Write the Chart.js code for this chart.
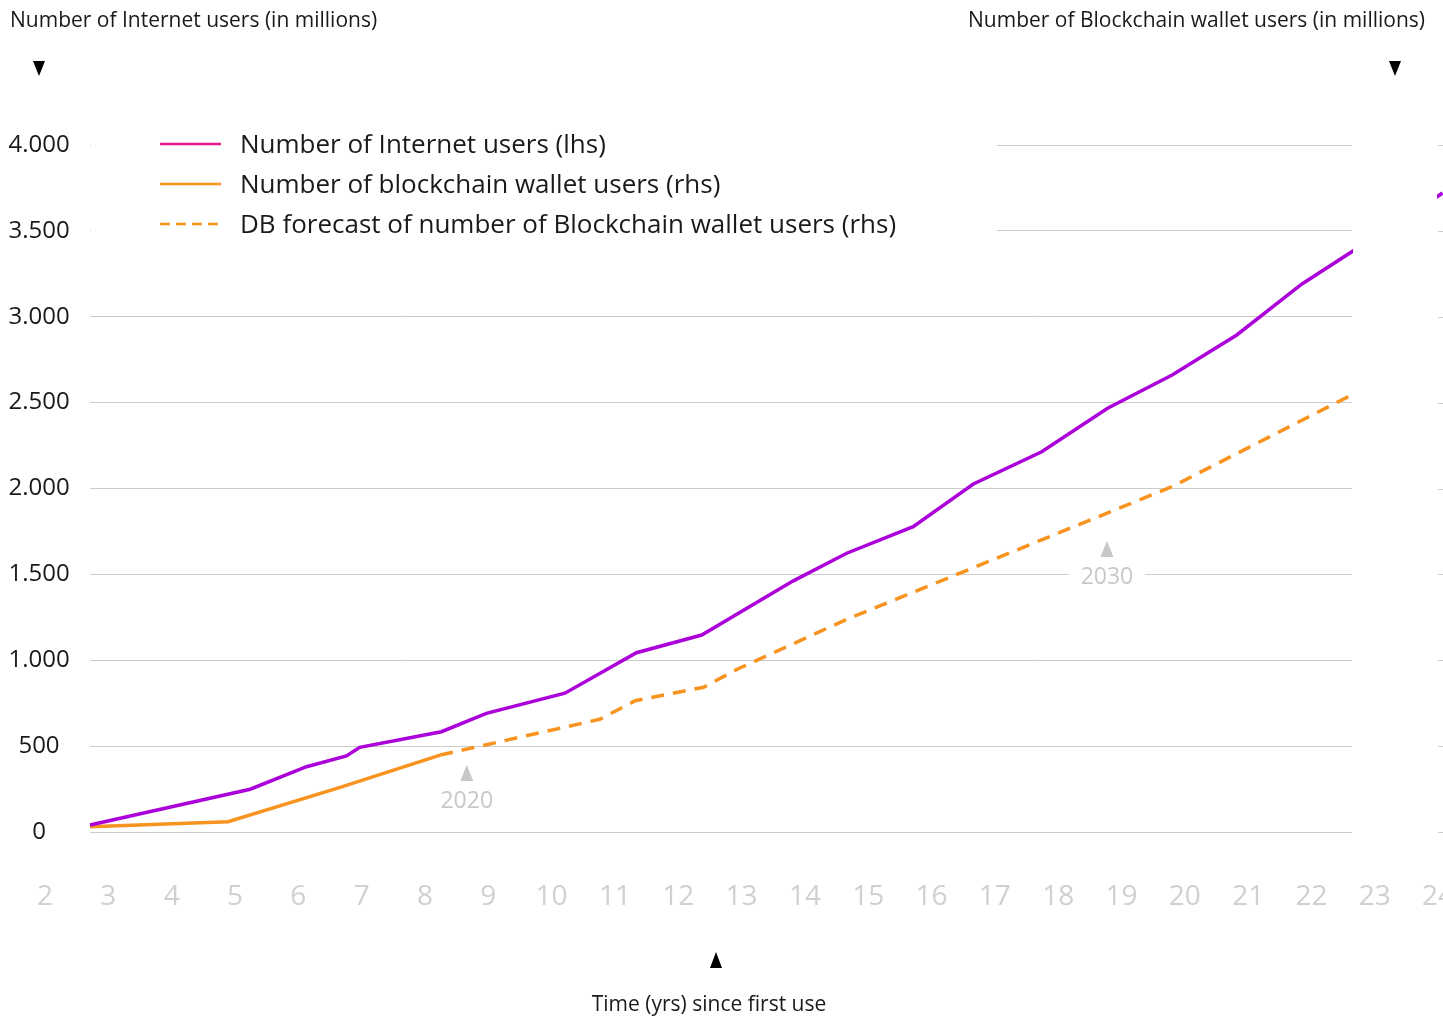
<!DOCTYPE html>
<html>
<head>
<meta charset="utf-8">
<script src="https://cdn.jsdelivr.net/npm/chart.js@4.4.0/dist/chart.umd.min.js"></script>
<style>
  html, body { margin: 0; padding: 0; background: #ffffff; }
  #wrap { width: 1443px; height: 1016px; position: relative; }
  canvas { display: block; }
</style>
</head>
<body>
<div id="wrap"><canvas id="chart" width="1443" height="1016"></canvas></div>
<script>
// ---- data (x = years since first use) ----
const internetYears = [2.71, 5.24, 6.13, 6.76, 6.97, 8.26, 8.97, 10.21, 11.34, 12.37, 13.81, 14.66, 15.71, 16.66, 17.74, 18.78, 19.80, 20.82, 21.85, 24.07];
const internetUsers = [41, 249, 380, 443, 493, 584, 691, 808, 1044, 1147, 1461, 1623, 1778, 2026, 2214, 2467, 2661, 2894, 3191, 3720];

const walletYears = [2.71, 4.89, 6.66, 8.24];
const walletUsers = [3.1, 6.0, 26.0, 44.8];

const forecastYears = [8.24, 10.76, 11.32, 12.40, 12.94, 14.66, 19.80, 22.64];
const forecastUsers = [44.8, 65.6, 76.4, 84.3, 94.9, 123.8, 201.1, 254.6];

const xTickValues = [2, 3, 4, 5, 6, 7, 8, 9, 10, 11, 12, 13, 14, 15, 16, 17, 18, 19, 20, 21, 22, 23, 24];

const markerLabels = ['2020', '2030'];
const markerYears = [8.66, 18.77];
const markerValues = [186, 1490];   // left-axis value at the label centre

const legendLabels = [
  'Number of Internet users (lhs)',
  'Number of blockchain wallet users (rhs)',
  'DB forecast of number of Blockchain wallet users (rhs)'
];

const leftTitle = 'Number of Internet users (in millions)';
const rightTitle = 'Number of Blockchain wallet users (in millions)';
const xTitle = 'Time (yrs) since first use';

// ---- styling ----
const FONT = '"Open Sans", Lato, "DejaVu Sans", sans-serif';
const INK = '#1a1a1a';
const GRID = '#cccccc';
const PURPLE = '#ab00d9';
const PINK = '#ea1a8e';
const ORANGE = '#f7931e';
const LIGHT = '#c8c8c8';

const toXY = (xs, ys) => xs.map((x, i) => ({ x: x, y: ys[i] }));
const fmtThousands = v => String(v).replace(/\B(?=(\d{3})+(?!\d))/g, '.');

// measure label widths so the tick labels can be centred in their gutters
const mctx = document.createElement('canvas').getContext('2d');
mctx.font = '24px ' + FONT;
const leftWidest = mctx.measureText('4.000').width;
const rightWidest = mctx.measureText('400').width;
const LEFT_W = 90, RIGHT_W = 91;
const leftPad = (LEFT_W - 39) - leftWidest / 2;
const rightPad = (1395 - (1443 - RIGHT_W)) - rightWidest / 2;

function triangle(ctx, cx, tipY, w, h, up, color) {
  ctx.fillStyle = color;
  ctx.beginPath();
  if (up) {
    ctx.moveTo(cx, tipY); ctx.lineTo(cx + w / 2, tipY + h); ctx.lineTo(cx - w / 2, tipY + h);
  } else {
    ctx.moveTo(cx, tipY); ctx.lineTo(cx + w / 2, tipY - h); ctx.lineTo(cx - w / 2, tipY - h);
  }
  ctx.closePath();
  ctx.fill();
}

const decor = {
  id: 'decor',
  beforeDatasetsDraw(chart) {
    // short grid stubs to the right of the right-hand labels
    const { ctx } = chart;
    const y2 = chart.scales.y2;
    ctx.save();
    ctx.strokeStyle = GRID;
    ctx.lineWidth = 1;
    y2.ticks.forEach(t => {
      const py = Math.round(y2.getPixelForValue(t.value)) + 0.5;
      ctx.beginPath(); ctx.moveTo(1438, py); ctx.lineTo(chart.width, py); ctx.stroke();
    });
    ctx.restore();
  },
  afterDatasetsDraw(chart) {
    const { ctx, chartArea: ca } = chart;
    const xs = chart.scales.x, y = chart.scales.y;
    ctx.save();
    // blank band behind the right-hand axis labels
    ctx.fillStyle = '#ffffff';
    ctx.fillRect(ca.right + 1, ca.top - 30, 1437 - ca.right - 1, ca.bottom - ca.top + 60);

    // year markers
    ctx.font = '23px ' + FONT;
    ctx.textAlign = 'center';
    ctx.textBaseline = 'middle';
    markerLabels.forEach((lab, i) => {
      const px = xs.getPixelForValue(markerYears[i]);
      const py = y.getPixelForValue(markerValues[i]);
      const w = ctx.measureText(lab).width;
      ctx.fillStyle = '#ffffff';
      ctx.fillRect(px - w / 2 - 12, py - 13, w + 24, 26);
      ctx.fillStyle = LIGHT;
      ctx.fillText(lab, px, py + 1);
      triangle(ctx, px, py - 35, 13, 16, true, LIGHT);
    });
    ctx.restore();
  },
  afterDraw(chart) {
    const { ctx } = chart;
    const xs = chart.scales.x;
    ctx.save();

    // x tick labels
    ctx.font = '28px ' + FONT;
    ctx.fillStyle = '#d0d0d0';
    ctx.textAlign = 'center';
    ctx.textBaseline = 'middle';
    xTickValues.forEach(v => ctx.fillText(String(v), xs.getPixelForValue(v), 897));

    // legend panel
    ctx.fillStyle = '#ffffff';
    ctx.fillRect(91, 118, 906, 132);
    const styles = [
      { color: PINK, dash: [] },
      { color: ORANGE, dash: [] },
      { color: ORANGE, dash: [10, 6] }
    ];
    ctx.font = '26px ' + FONT;
    ctx.textAlign = 'left';
    ctx.textBaseline = 'middle';
    legendLabels.forEach((lab, i) => {
      const ly = 144 + i * 40;
      ctx.strokeStyle = styles[i].color;
      ctx.lineWidth = 2.5;
      ctx.setLineDash(styles[i].dash);
      ctx.beginPath(); ctx.moveTo(160, ly); ctx.lineTo(221, ly); ctx.stroke();
      ctx.setLineDash([]);
      ctx.fillStyle = INK;
      ctx.fillText(lab, 240, ly + 2);
    });

    // axis titles
    ctx.font = '21px ' + FONT;
    ctx.fillStyle = INK;
    ctx.textAlign = 'left';
    ctx.fillText(leftTitle, 10, 21);
    ctx.textAlign = 'right';
    ctx.fillText(rightTitle, 1425, 21);
    ctx.textAlign = 'center';
    ctx.fillText(xTitle, 709, 1005);

    triangle(ctx, 39, 76, 12, 15, false, '#000000');
    triangle(ctx, 1395, 76, 12, 15, false, '#000000');
    triangle(ctx, 716, 952, 12, 16, true, '#000000');
    ctx.restore();
  }
};

new Chart(document.getElementById('chart'), {
  type: 'line',
  data: {
    datasets: [
      {
        label: legendLabels[0],
        data: toXY(internetYears, internetUsers),
        yAxisID: 'y',
        borderColor: PURPLE,
        borderWidth: 3.5,
        pointRadius: 0,
        tension: 0,
        clip: false
      },
      {
        label: legendLabels[1],
        data: toXY(walletYears, walletUsers),
        yAxisID: 'y2',
        borderColor: ORANGE,
        borderWidth: 3.5,
        pointRadius: 0,
        tension: 0
      },
      {
        label: legendLabels[2],
        data: toXY(forecastYears, forecastUsers),
        yAxisID: 'y2',
        borderColor: ORANGE,
        borderWidth: 3.5,
        borderDash: [13, 9],
        pointRadius: 0,
        tension: 0
      }
    ]
  },
  options: {
    responsive: false,
    devicePixelRatio: 1,
    animation: false,
    layout: { padding: { top: 145, bottom: 184, left: 0, right: 0 } },
    plugins: { legend: { display: false }, tooltip: { enabled: false }, title: { display: false } },
    scales: {
      x: {
        type: 'linear',
        min: 2.71,
        max: 22.64,
        display: false
      },
      y: {
        position: 'left',
        min: 0,
        max: 4000,
        afterFit(s) { s.width = LEFT_W; },
        ticks: {
          stepSize: 500,
          callback: v => fmtThousands(v),
          font: { family: FONT, size: 24 },
          color: INK,
          crossAlign: 'center',
          padding: leftPad
        },
        grid: { color: GRID, lineWidth: 1, drawTicks: false },
        border: { display: false }
      },
      y2: {
        position: 'right',
        min: 0,
        max: 400,
        z: 1,
        afterFit(s) { s.width = RIGHT_W; },
        ticks: {
          stepSize: 50,
          font: { family: FONT, size: 24 },
          color: INK,
          crossAlign: 'center',
          padding: rightPad
        },
        grid: { display: false, drawTicks: false },
        border: { display: false }
      }
    }
  },
  plugins: [decor]
});
</script>
</body>
</html>
